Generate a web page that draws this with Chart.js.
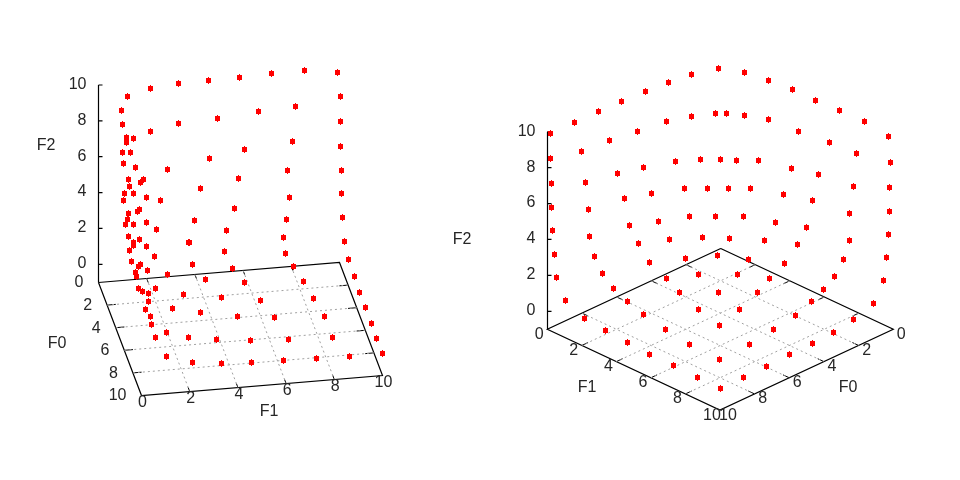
<!DOCTYPE html>
<html>
<head>
<meta charset="utf-8">
<style>html,body{margin:0;padding:0;background:#fff}canvas{display:block}</style>
<script src="https://cdn.jsdelivr.net/npm/chart.js@4"></script>
</head>
<body>
<canvas id="c" width="960" height="480"></canvas>
<script>
// Marks: projected horizontal / vertical position in each view
const leftViewX = [
208,239,271,304,337,340,295,258,217,340,292,340,244,209,287,341,238,200,289,341,234,194,286,342,226,189,283,344,224,285,348,
178,150,127,121,122,178,150,126,133,126,122,130,123,135,167,128,143,140,129,124,133,146,123,160,139,137,128,127,125,133,146,156,
128,139,133,133,188,146,129,154,131,192,140,138,147,232,135,136,167,205,
138,142,148,155,183,221,148,145,172,200,237,150,151,166,155,188,216,166,192,221,
293,354,244,303,359,260,313,365,274,324,371,250,288,332,376,251,283,316,349,382];
const leftViewY = [
80,77,73,70,72,96,106,111,118,121,141,146,149,158,170,170,178,188,197,193,208,220,219,217,230,242,237,241,251,253,259,
83,88,96,110,124,123,131,137,138,142,152,152,163,167,169,179,179,182,186,193,193,197,200,200,209,211,213,219,224,224,222,229,
236,239,242,245,242,246,250,256,261,264,264,266,270,268,272,276,274,279,
288,291,293,288,294,297,301,309,308,312,316,316,324,332,337,337,339,356,362,363,
266,276,282,281,292,300,298,307,317,316,323,340,339,337,338,362,360,358,356,353];
const rightViewX = [
550,574,598,621,645,668,691,718,744,768,792,815,839,864,888,
550,581,609,637,666,691,715,726,744,768,798,829,856,890,
551,585,617,643,675,700,720,736,758,791,818,853,889,
551,588,624,651,684,707,728,750,783,812,849,889,
552,589,629,658,689,715,743,775,806,849,888,
554,594,638,669,702,729,764,797,843,886,
556,602,649,685,717,748,784,834,883,
565,613,666,698,737,769,823,873,
627,679,718,757,811,
584,643,698,739,795,853,
605,665,719,773,833,
627,689,749,812,
649,719,789,
673,766,
697,743,
720];
const rightViewY = [
133,122,111,101,91,82,74,68,72,80,89,100,110,121,136,
158,151,140,131,121,116,113,113,115,119,131,142,153,162,
183,182,173,167,161,159,159,160,160,168,174,186,187,
207,209,198,193,188,188,188,188,194,200,213,211,
230,236,225,221,216,216,216,222,227,240,234,
254,256,243,239,237,238,240,244,259,257,
277,273,262,258,255,259,263,276,280,
300,288,278,274,274,278,289,303,
301,292,292,292,301,
318,314,309,309,315,319,
330,329,325,329,332,
342,344,344,343,
354,359,354,
365,366,
377,377,
388];
const axisTicks = [0, 2, 4, 6, 8, 10];
const gridTicks = [2, 4, 6, 8];
const axisNames = ["F0", "F1", "F2"];

// Orthographic views of the F0/F1/F2 box (gnuplot-style splot frame)
const leftView  = {o:[98.5,282.5], f0:[4.3,11.3],   f1:[24.1,-2.0], z0:264.3, zs:-17.93, zx:98.5,
  f0Lab:{dx:-15,dy:0.5,align:"right"}, f1Lab:{dx:1,dy:7.5}, f0Edge:0,
  title:[[57,344],[269,412],[46,146]]};
const rightView = {o:[720.7,248.5], f0:[-17.34,8.08], f1:[17.26,8.08], z0:311.3, zs:-17.96, zx:547.5,
  f0Lab:{dx:8,dy:5,align:"center"}, f1Lab:{dx:-8,dy:5}, f0Edge:10,
  title:[[848,388],[587,388],[462,240]]};

function project(view, a, b) {
  return {x: view.o[0] + view.f0[0]*a + view.f1[0]*b,
          y: view.o[1] + view.f0[1]*a + view.f1[1]*b};
}
const gap = {x: null, y: null};

function frameSegments(view) {
  const p = (a,b) => project(view,a,b), s = [];
  s.push(p(0,0), p(10,0), p(10,10), p(0,10), p(0,0), gap);
  // vertical axis runs from the F2=10 tick down to the floor corner
  const base = view === leftView ? project(view,0,0).y : project(view,10,0).y;
  s.push({x:view.zx, y:view.z0 + view.zs*10}, {x:view.zx, y:base}, gap);
  for (const t of axisTicks) s.push({x:view.zx, y:view.z0+view.zs*t}, {x:view.zx+4, y:view.z0+view.zs*t}, gap);
  return s;
}
function tickSegments(view) {
  const s = [];
  const u = 0.36;
  const add = (a,b,da,db) => { s.push(project(view,a,b), project(view,a+da,b+db), gap); };
  for (const t of gridTicks) { add(t,0,0,u); add(t,10,0,-u); add(0,t,u,0); add(10,t,-u,0); }
  return s;
}
function gridSegments(view) {
  const s = [];
  for (const t of gridTicks) {
    s.push(project(view,t,0), project(view,t,10), gap);
    s.push(project(view,0,t), project(view,10,t), gap);
  }
  return s;
}
function marks(xs, ys) { return xs.map((x,i) => ({x: x+0.5, y: ys[i]+0.5})); }

// The small gnuplot dot: 5x5 body with a one-pixel nub above and below
const dot = document.createElement("canvas");
dot.width = 5; dot.height = 7;
(function(){ const g = dot.getContext("2d"); g.fillStyle = "#ff0000"; g.fillRect(0,1,5,5); g.fillRect(2,0,1,7); })();

const lineDefaults = {showLine:true, pointRadius:0, spanGaps:false, fill:false, tension:0, order:2};
const datasets = [];
for (const v of [leftView, rightView]) {
  datasets.push({...lineDefaults, data:gridSegments(v), borderColor:"#a0a0a0", borderWidth:1, borderDash:[2,3]});
  datasets.push({...lineDefaults, data:frameSegments(v), borderColor:"#000000", borderWidth:1.2});
  datasets.push({...lineDefaults, data:tickSegments(v), borderColor:"#000000", borderWidth:1});
}
const markStyle = {showLine:false, pointStyle:dot, pointRadius:3, order:1, borderWidth:0};
datasets.push({...markStyle, label:"left",  data:marks(leftViewX, leftViewY)});
datasets.push({...markStyle, label:"right", data:marks(rightViewX, rightViewY)});

const tickText = {
  id: "tickText",
  afterDatasetsDraw(chart) {
    const c = chart.ctx;
    c.save();
    c.fillStyle = "#262626";
    c.font = '16px "Liberation Sans", Arial, sans-serif';
    c.textBaseline = "middle";
    for (const v of [leftView, rightView]) {
      for (const t of axisTicks) {
        c.textAlign = "right";
        c.fillText(String(t), v.zx - 12, v.z0 + v.zs*t - 0.5);
        const pf = project(v, t, v.f0Edge === 0 ? 0 : 10);
        c.textAlign = v.f0Lab.align;
        c.fillText(String(t), pf.x + v.f0Lab.dx, pf.y + v.f0Lab.dy);
        const pb = project(v, 10, t);
        c.textAlign = "center";
        c.fillText(String(t), pb.x + v.f1Lab.dx, pb.y + v.f1Lab.dy);
      }
      c.textAlign = "center";
      axisNames.forEach((n,i) => c.fillText(n, v.title[i][0], v.title[i][1]));
    }
    c.restore();
  }
};

new Chart(document.getElementById("c"), {
  type: "scatter",
  data: {datasets},
  plugins: [tickText],
  options: {
    responsive:false, animation:false, devicePixelRatio:1,
    layout:{padding:0, autoPadding:false},
    plugins:{legend:{display:false}, tooltip:{enabled:false}},
    scales:{
      x:{type:"linear", min:0, max:960, display:false},
      y:{type:"linear", min:0, max:480, reverse:true, display:false}
    }
  }
});
</script>
</body>
</html>
